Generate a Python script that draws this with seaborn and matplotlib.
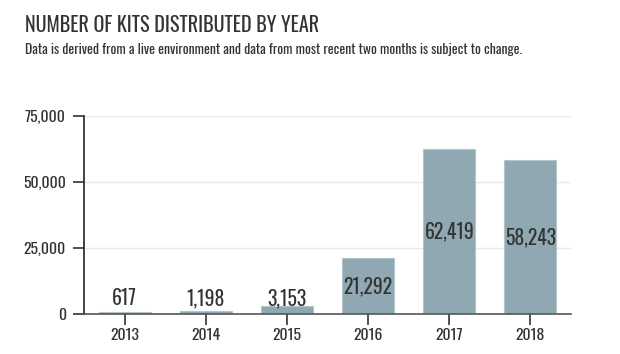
import matplotlib
matplotlib.use("Agg")
import matplotlib.pyplot as plt
from matplotlib import font_manager
from matplotlib.ticker import FuncFormatter
import pandas as pd
import seaborn as sns

years = ["2013", "2014", "2015", "2016", "2017", "2018"]
kits = [617, 1198, 3153, 21292, 62419, 58243]
y_ticks = [0, 25000, 50000, 75000]

title = "NUMBER OF KITS DISTRIBUTED BY YEAR"
subtitle = "Data is derived from a live environment and data from most recent two months is subject to change."

# the original is set in a condensed face, take the first one installed
available = {f.name for f in font_manager.fontManager.ttflist}
family = [n for n in ["Oswald", "Barlow Condensed", "Roboto Condensed", "Barlow Semi Condensed"]
          if n in available][:1] + ["DejaVu Sans"]

sns.set_style("white")
plt.rcParams["font.family"] = family

df = pd.DataFrame({"year": years, "kits": kits})

fig = plt.figure(figsize=(6.2, 3.54), dpi=100)
ax = fig.add_axes([0.1355, 0.113, 0.7855, 0.559])

sns.barplot(data=df, x="year", y="kits", color="#8fa8b1", width=0.64,
            saturation=1, edgecolor="#b3c4ca", linewidth=0.8, ax=ax, zorder=2)

ax.set_ylim(0, 75000)
ax.set_xlim(-0.5, 5.5)
ax.set_yticks(y_ticks)
ax.yaxis.set_major_formatter(FuncFormatter(lambda v, p: f"{int(v):,}"))
ax.grid(axis="y", color="#e8e8e8", linewidth=1, zorder=0)
ax.set_xlabel("")
ax.set_ylabel("")

for s in ["top", "right"]:
    ax.spines[s].set_visible(False)
ax.spines["left"].set_color("#222222")
ax.spines["left"].set_linewidth(1.2)
ax.spines["bottom"].set_color("#555555")
ax.spines["bottom"].set_linewidth(1.2)
ax.tick_params(axis="both", length=8, width=1.2, color="#333333",
               labelsize=11.3, labelcolor="#333333")
ax.tick_params(axis="x", bottom=True, pad=2)
ax.tick_params(axis="y", left=True, pad=5)

for i, v in enumerate(kits):
    ax.text(i, max(v / 2, 6000), f"{v:,}", ha="center", va="center",
            fontsize=14.2, color="#333333", zorder=3)

fig.text(0.04, 0.929, title, fontsize=14.5, color="#333333", va="center")
fig.text(0.04, 0.86, subtitle, fontsize=9.9, color="#333333", va="center")

fig.savefig("out.png", dpi=100)
